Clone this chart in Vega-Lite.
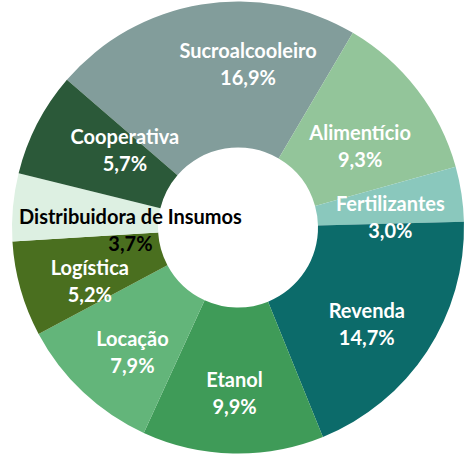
{
  "$schema": "https://vega.github.io/schema/vega-lite/v6.json",
  "width": 476,
  "height": 455,
  "autosize": {"type": "fit", "contains": "padding"},
  "padding": 0,
  "background": "white",
  "view": {"stroke": null},
  "data": {
    "values": [
      {"setor": "Sucroalcooleiro", "valor": 16.9, "ordem": 1},
      {"setor": "Alimentício", "valor": 9.3, "ordem": 2},
      {"setor": "Fertilizantes", "valor": 3.0, "ordem": 3},
      {"setor": "Revenda", "valor": 14.7, "ordem": 4},
      {"setor": "Etanol", "valor": 9.9, "ordem": 5},
      {"setor": "Locação", "valor": 7.9, "ordem": 6},
      {"setor": "Logística", "valor": 5.2, "ordem": 7},
      {"setor": "Distribuidora de Insumos", "valor": 3.7, "ordem": 8},
      {"setor": "Cooperativa", "valor": 5.7, "ordem": 9}
    ]
  },
  "transform": [
    {"calculate": "datum.setor + '\\n' + replace(format(datum.valor, '.1f'), '.', ',') + '%'", "as": "rotulo"}
  ],
  "encoding": {
    "theta": {"field": "valor", "type": "quantitative", "stack": true, "scale": {"range": [-0.8587, 5.4245]}},
    "order": {"field": "ordem", "type": "quantitative"},
    "color": {
      "field": "setor",
      "type": "nominal",
      "scale": {
        "domain": ["Sucroalcooleiro", "Alimentício", "Fertilizantes", "Revenda", "Etanol", "Locação", "Logística", "Distribuidora de Insumos", "Cooperativa"],
        "range": ["#829D9B", "#93C59A", "#8AC8BD", "#0C6B6A", "#3F9B58", "#63B57A", "#4A6F1F", "#DDF0E2", "#2B5939"]
      },
      "legend": null
    }
  },
  "layer": [
    {"mark": {"type": "arc", "outerRadius": 226, "innerRadius": 80}},
    {
      "mark": {
        "type": "text", "font": "Lato", "fontWeight": "bold", "fontSize": 20, "lineBreak": "\n", "lineHeight": 27, "baseline": "middle",
        "thetaOffset": {"expr": "datum.setor === 'Sucroalcooleiro' ? 0.22 : datum.setor === 'Cooperativa' ? 0.19 : 0"},
        "radiusOffset": {"expr": "datum.setor === 'Sucroalcooleiro' ? 22 : datum.setor === 'Cooperativa' ? -10 : 0"}
      },
      "encoding": {
        "text": {"condition": {"test": "datum.setor === 'Distribuidora de Insumos'", "value": ""}, "field": "rotulo"},
        "radius": {"value": 154},
        "color": {"value": "white"}
      }
    },
    {
      "mark": {"type": "text", "font": "Lato", "fontWeight": "bold", "fontSize": 20, "lineBreak": "\n", "lineHeight": 27, "baseline": "middle"},
      "encoding": {
        "text": {"condition": {"test": "datum.setor !== 'Distribuidora de Insumos'", "value": ""}, "field": "rotulo"},
        "radius": {"value": 108},
        "color": {"value": "black"}
      }
    }
  ]
}
